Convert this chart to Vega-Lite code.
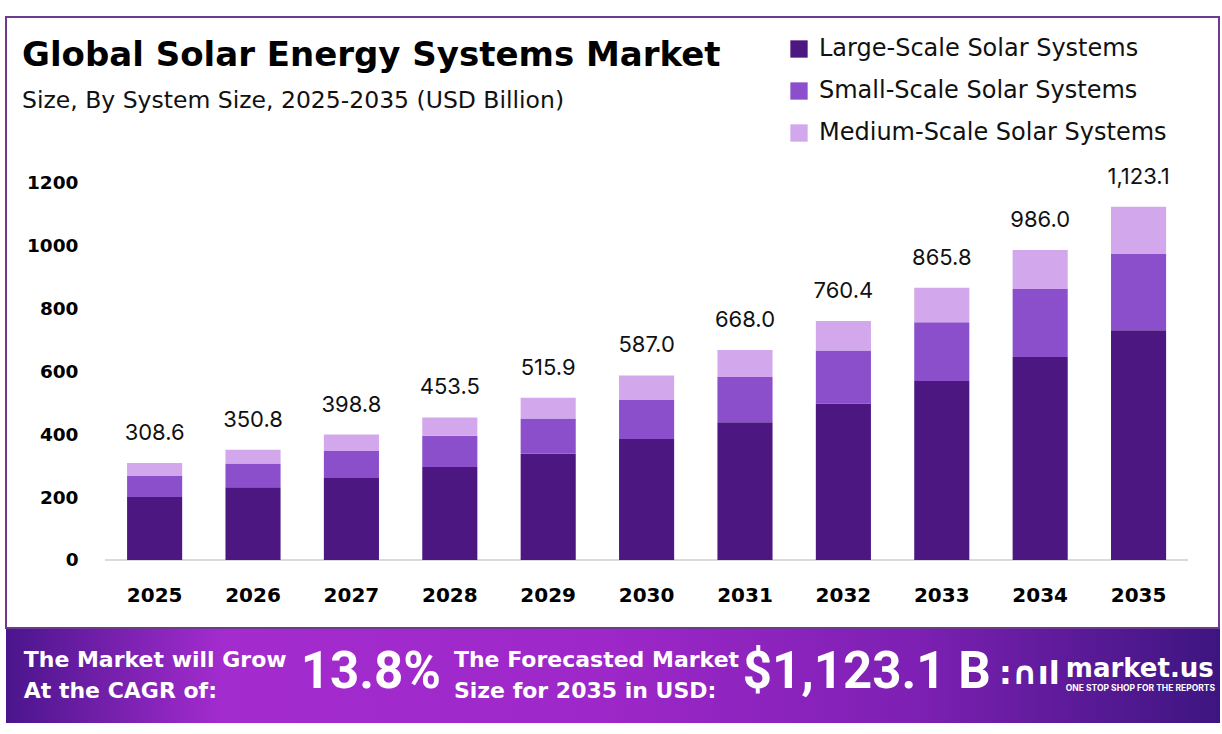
{
  "$schema": "https://vega.github.io/schema/vega-lite/v6.json",
  "background": "#ffffff",
  "padding": {"left": 5, "top": 16, "right": 3, "bottom": 13},
  "spacing": 0,
  "config": {
    "font": "DejaVu Sans",
    "view": {"stroke": null},
    "concat": {"spacing": 0}
  },
  "datasets": {
    "market": [
      {"year": "2025", "segment": "Large-Scale Solar Systems", "value": 200},
      {"year": "2025", "segment": "Small-Scale Solar Systems", "value": 67},
      {"year": "2025", "segment": "Medium-Scale Solar Systems", "value": 41.6},
      {"year": "2026", "segment": "Large-Scale Solar Systems", "value": 231},
      {"year": "2026", "segment": "Small-Scale Solar Systems", "value": 76},
      {"year": "2026", "segment": "Medium-Scale Solar Systems", "value": 43.8},
      {"year": "2027", "segment": "Large-Scale Solar Systems", "value": 261},
      {"year": "2027", "segment": "Small-Scale Solar Systems", "value": 86},
      {"year": "2027", "segment": "Medium-Scale Solar Systems", "value": 51.8},
      {"year": "2028", "segment": "Large-Scale Solar Systems", "value": 296},
      {"year": "2028", "segment": "Small-Scale Solar Systems", "value": 99},
      {"year": "2028", "segment": "Medium-Scale Solar Systems", "value": 58.5},
      {"year": "2029", "segment": "Large-Scale Solar Systems", "value": 338},
      {"year": "2029", "segment": "Small-Scale Solar Systems", "value": 112},
      {"year": "2029", "segment": "Medium-Scale Solar Systems", "value": 65.9},
      {"year": "2030", "segment": "Large-Scale Solar Systems", "value": 385},
      {"year": "2030", "segment": "Small-Scale Solar Systems", "value": 124},
      {"year": "2030", "segment": "Medium-Scale Solar Systems", "value": 78},
      {"year": "2031", "segment": "Large-Scale Solar Systems", "value": 438},
      {"year": "2031", "segment": "Small-Scale Solar Systems", "value": 144},
      {"year": "2031", "segment": "Medium-Scale Solar Systems", "value": 86},
      {"year": "2032", "segment": "Large-Scale Solar Systems", "value": 498},
      {"year": "2032", "segment": "Small-Scale Solar Systems", "value": 168},
      {"year": "2032", "segment": "Medium-Scale Solar Systems", "value": 94.4},
      {"year": "2033", "segment": "Large-Scale Solar Systems", "value": 569},
      {"year": "2033", "segment": "Small-Scale Solar Systems", "value": 187},
      {"year": "2033", "segment": "Medium-Scale Solar Systems", "value": 109.8},
      {"year": "2034", "segment": "Large-Scale Solar Systems", "value": 646},
      {"year": "2034", "segment": "Small-Scale Solar Systems", "value": 216},
      {"year": "2034", "segment": "Medium-Scale Solar Systems", "value": 124},
      {"year": "2035", "segment": "Large-Scale Solar Systems", "value": 731},
      {"year": "2035", "segment": "Small-Scale Solar Systems", "value": 242},
      {"year": "2035", "segment": "Medium-Scale Solar Systems", "value": 150.1}
    ],
    "banner": [
      {"kind": "label", "part": "cagr", "text": "The Market will Grow\nAt the CAGR of:"},
      {"kind": "label", "part": "forecast", "text": "The Forecasted Market\nSize for 2035 in USD:"},
      {"kind": "value", "part": "cagr", "text": "13.8%"},
      {"kind": "value", "part": "forecast", "text": "$1,123.1 B"},
      {"kind": "glyph", "part": "logo", "text": ":∩ıl"},
      {"kind": "brand", "part": "logo", "text": "market.us"},
      {"kind": "tagline", "part": "logo", "text": "ONE STOP SHOP FOR THE REPORTS"}
    ],
    "bannerBackground": [{"band": "banner"}]
  },
  "vconcat": [
    {
      "width": 1213,
      "height": 611,
      "view": {"stroke": "#6e3a8e", "strokeWidth": 2},
      "title": {
        "text": "Global Solar Energy Systems Market",
        "subtitle": "Size, By System Size, 2025-2035 (USD Billion)",
        "anchor": "start",
        "frame": "group",
        "orient": "top",
        "offset": -95,
        "dx": 16,
        "font": "DejaVu Sans",
        "fontSize": 34,
        "fontWeight": "bold",
        "color": "#000000",
        "subtitleFont": "DejaVu Sans",
        "subtitleFontSize": 23.5,
        "subtitleFontWeight": "normal",
        "subtitleColor": "#111111",
        "subtitlePadding": 16
      },
      "data": {"name": "market"},
      "transform": [
        {"window": [{"op": "row_number", "as": "stackRank"}], "groupby": ["year"]}
      ],
      "encoding": {
        "x": {
          "field": "year",
          "type": "ordinal",
          "scale": {"paddingInner": 0.44, "paddingOuter": 0.884, "align": 0.696},
          "axis": {
            "title": null,
            "domain": false,
            "ticks": false,
            "offset": -68,
            "labelPadding": 25,
            "labelFont": "DejaVu Sans",
            "labelFontSize": 20,
            "labelFontWeight": "bold",
            "labelColor": "#000000",
            "labelAngle": 0
          }
        }
      },
      "layer": [
        {
          "mark": {"type": "tick", "orient": "horizontal", "size": 99, "thickness": 2, "color": "#d9d9d9"},
          "encoding": {
            "y": {"datum": 0, "type": "quantitative"}
          }
        },
        {
          "mark": {"type": "bar"},
          "encoding": {
            "y": {
              "field": "value",
              "type": "quantitative",
              "stack": "zero",
              "scale": {"domain": [-216.3, 1727], "nice": false, "zero": false},
              "axis": {
                "title": null,
                "values": [0, 200, 400, 600, 800, 1000, 1200],
                "format": "d",
                "domain": false,
                "ticks": false,
                "grid": false,
                "offset": -76,
                "labelPadding": 4,
                "labelFont": "DejaVu Sans",
                "labelFontSize": 18.5,
                "labelFontWeight": "bold",
                "labelColor": "#000000"
              }
            },
            "color": {
              "field": "segment",
              "type": "nominal",
              "sort": ["Large-Scale Solar Systems", "Small-Scale Solar Systems", "Medium-Scale Solar Systems"],
              "scale": {
                "domain": ["Large-Scale Solar Systems", "Small-Scale Solar Systems", "Medium-Scale Solar Systems"],
                "range": ["#4d1782", "#8b4fcc", "#d3a7eb"]
              },
              "legend": {
                "title": null,
                "orient": "none",
                "legendX": 781,
                "legendY": 20,
                "padding": 0,
                "symbolType": "square",
                "symbolSize": 300,
                "symbolStrokeWidth": 0,
                "labelOffset": 8,
                "labelFont": "DejaVu Sans",
                "labelFontSize": 24,
                "labelColor": "#111111",
                "labelLimit": 500,
                "rowPadding": 18
              }
            },
            "order": {"field": "stackRank", "type": "quantitative", "sort": "ascending"}
          }
        },
        {
          "transform": [
            {"aggregate": [{"op": "sum", "field": "value", "as": "total"}], "groupby": ["year"]}
          ],
          "mark": {"type": "text", "baseline": "alphabetic", "dy": -23, "font": "Inter", "fontSize": 22, "color": "#111111"},
          "encoding": {
            "y": {"field": "total", "type": "quantitative"},
            "text": {"field": "total", "type": "quantitative", "format": ",.1f"}
          }
        }
      ]
    },
    {
      "width": 1214,
      "height": 94,
      "view": {"stroke": null},
      "resolve": {"scale": {"x": "independent"}},
      "layer": [
        {
          "data": {"name": "bannerBackground"},
          "mark": {
            "type": "rect",
            "color": {
              "gradient": "linear",
              "x1": 0, "x2": 1, "y1": 0, "y2": 0,
              "stops": [
                {"offset": 0, "color": "#4a158c"},
                {"offset": 0.18, "color": "#a42ccf"},
                {"offset": 0.5, "color": "#9d27c8"},
                {"offset": 0.75, "color": "#7d20b3"},
                {"offset": 1, "color": "#3d1580"}
              ]
            }
          }
        },
        {
          "data": {"name": "banner"},
          "transform": [{"filter": "datum.kind === 'label'"}],
          "mark": {"type": "text", "align": "left", "baseline": "middle", "dy": -16, "lineBreak": "\n", "lineHeight": 31, "font": "DejaVu Sans", "fontSize": 22, "fontWeight": "bold", "color": "#ffffff"},
          "encoding": {
            "x": {"field": "part", "type": "nominal", "sort": ["cagr", "forecast"], "scale": {"type": "point", "padding": 0.911, "align": 0.0226}, "axis": null},
            "text": {"field": "text"}
          }
        },
        {
          "data": {"name": "banner"},
          "transform": [{"filter": "datum.kind === 'value'"}],
          "mark": {"type": "text", "align": "right", "baseline": "middle", "dy": -3, "font": "Roboto", "fontSize": 51, "fontWeight": "bold", "color": "#ffffff"},
          "encoding": {
            "x": {"field": "part", "type": "nominal", "sort": ["cagr", "forecast"], "scale": {"type": "point", "padding": 0.604, "align": 0.655}, "axis": null},
            "text": {"field": "text"}
          }
        },
        {
          "data": {"name": "banner"},
          "transform": [{"filter": "datum.kind === 'glyph'"}],
          "mark": {"type": "text", "align": "left", "baseline": "middle", "dy": -2, "font": "DejaVu Sans", "fontSize": 32, "fontWeight": "bold", "color": "#ffffff"},
          "encoding": {
            "x": {"field": "part", "type": "nominal", "scale": {"type": "point", "padding": 0, "align": 0.818}, "axis": null},
            "text": {"field": "text"}
          }
        },
        {
          "data": {"name": "banner"},
          "transform": [{"filter": "datum.kind === 'brand'"}],
          "mark": {"type": "text", "align": "left", "baseline": "alphabetic", "dy": 1, "font": "DejaVu Sans", "fontSize": 26, "fontWeight": "bold", "color": "#ffffff"},
          "encoding": {
            "x": {"field": "part", "type": "nominal", "scale": {"type": "point", "padding": 0, "align": 0.873}, "axis": null},
            "text": {"field": "text"}
          }
        },
        {
          "data": {"name": "banner"},
          "transform": [{"filter": "datum.kind === 'tagline'"}],
          "mark": {"type": "text", "align": "left", "baseline": "middle", "dy": 12, "font": "Inter", "fontSize": 8.5, "fontWeight": "bold", "color": "#ffffff"},
          "encoding": {
            "x": {"field": "part", "type": "nominal", "scale": {"type": "point", "padding": 0, "align": 0.873}, "axis": null},
            "text": {"field": "text"}
          }
        }
      ]
    }
  ]
}
